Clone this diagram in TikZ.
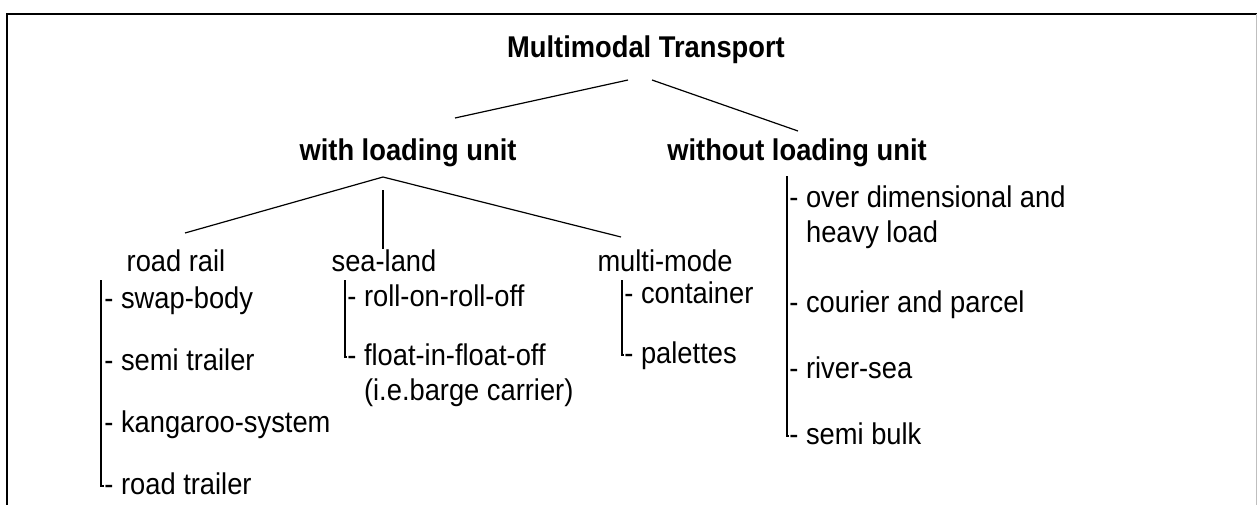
\documentclass[tikz,border=0pt]{standalone}
\usepackage{fontspec}
\setmainfont{Liberation Sans}[FakeStretch=0.91]
\usepackage{tikz}
\usetikzlibrary{positioning}

\begin{document}
\begin{tikzpicture}[x=0.5pt,y=-0.5pt,
  font=\fontsize{15}{17.5}\selectfont,
  head/.style={font=\fontsize{15}{17.5}\selectfont\bfseries,anchor=base,inner sep=0pt},
  cat/.style={anchor=base,inner sep=0pt},
  item/.style={anchor=base west,inner sep=0pt,align=left},
  link/.style={line width=0.6pt}]
\useasboundingbox (0,0) rectangle (1257,504);
% --- frame ---
\draw[line width=1.1pt] (7,530) -- (7,14) -- (1262,14);
\draw[black!25,line width=0.5pt] (1256,14) -- (1256,530);
% --- top levels ---
\node[head] (mt)   at (646,57)  {Multimodal Transport};
\node[head] (wlu)  at (408,160) {with loading unit};
\node[head] (wolu) at (797,160) {without loading unit};
\coordinate (mt-l) at (628,80);
\coordinate (mt-r) at (652,80);
\coordinate (wlu-t) at (455,118);
\coordinate (wolu-t) at (798,131);
\draw[link] (mt-l) -- (wlu-t);
\draw[link] (mt-r) -- (wolu-t);
% --- with loading unit ---
\node[cat] (rr) at (176,271) {road rail};
\node[cat] (sl) at (384,271) {sea-land};
\node[cat] (mm) at (665,271) {multi-mode};
\coordinate (wlu-b) at (383,177);
\coordinate (wlu-v) at (383,190);
\coordinate (rr-t) at (185,233);
\coordinate (sl-t) at (383,249);
\coordinate (mm-t) at (621,237);
\draw[link] (rr-t) -- (wlu-b) -- (mm-t);
\draw[link] (wlu-v) -- (sl-t);
% road rail items
\node[item] (rr1) at (104,308) {- swap-body};
\node[item] (rr2) at (104,370) {- semi trailer};
\node[item] (rr3) at (104,432) {- kangaroo-system};
\node[item] (rr4) at (104,494) {- road trailer};
\coordinate (rr-v) at (101,280);
\draw[link] (rr-v) |- ([yshift=4pt]rr4.base west);
% sea-land items
\node[item] (sl1) at (347,306) {- roll-on-roll-off};
\node[item] (sl2) at (347,400) {- float-in-float-off\\\phantom{- }(i.e.barge carrier)};
\coordinate (sl-v) at (345,280);
\draw[link] (sl-v) |- ([yshift=21.5pt]sl2.base west);
% multi-mode items
\node[item] (mm1) at (624,303) {- container};
\node[item] (mm2) at (624,363) {- palettes};
\coordinate (mm-v) at (622,280);
\draw[link] (mm-v) |- ([yshift=4pt]mm2.base west);
% --- without loading unit ---
\node[item] (wo1) at (789,242) {- over dimensional and\\\phantom{- }heavy load};
\node[item] (wo2) at (789,312) {- courier and parcel};
\node[item] (wo3) at (789,378) {- river-sea};
\node[item] (wo4) at (789,444) {- semi bulk};
\coordinate (wo-v) at (787,176);
\draw[link] (wo-v) |- ([yshift=4pt]wo4.base west);
\end{tikzpicture}
\end{document}
